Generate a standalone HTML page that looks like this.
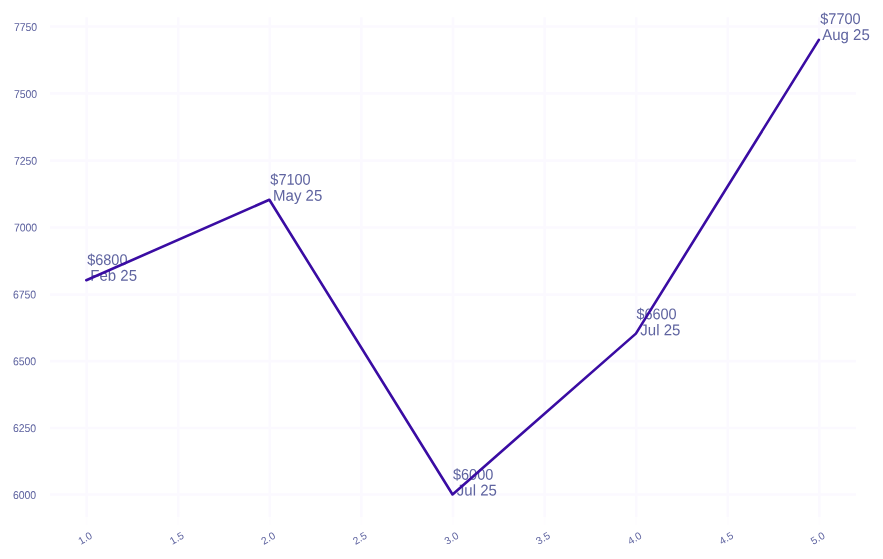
<!DOCTYPE html>
<html lang="en"><head><meta charset="utf-8"><title>Chart</title>
<style>html,body{margin:0;padding:0;background:#fff;overflow:hidden}svg{display:block}text{font-family:"Liberation Sans",Arial,sans-serif;fill:#5f64a0}.t{font-size:10.3px}.u{font-size:10.5px}.a{font-size:14.5px;white-space:pre}.b{font-size:15px;white-space:pre}</style></head><body>
<svg width="883" height="559" viewBox="0 0 883 559">
<rect width="883" height="559" fill="#fff"/>
<g stroke="#fbf9ff" stroke-width="2.6" fill="none">
<line x1="86.64" y1="17.20" x2="86.64" y2="517.20"/>
<line x1="178.23" y1="17.20" x2="178.23" y2="517.20"/>
<line x1="269.82" y1="17.20" x2="269.82" y2="517.20"/>
<line x1="361.41" y1="17.20" x2="361.41" y2="517.20"/>
<line x1="453.00" y1="17.20" x2="453.00" y2="517.20"/>
<line x1="544.59" y1="17.20" x2="544.59" y2="517.20"/>
<line x1="636.18" y1="17.20" x2="636.18" y2="517.20"/>
<line x1="727.77" y1="17.20" x2="727.77" y2="517.20"/>
<line x1="819.36" y1="17.20" x2="819.36" y2="517.20"/>
<line x1="50.00" y1="494.47" x2="856.00" y2="494.47"/>
<line x1="50.00" y1="427.93" x2="856.00" y2="427.93"/>
<line x1="50.00" y1="361.08" x2="856.00" y2="361.08"/>
<line x1="50.00" y1="294.59" x2="856.00" y2="294.59"/>
<line x1="50.00" y1="227.49" x2="856.00" y2="227.49"/>
<line x1="50.00" y1="160.60" x2="856.00" y2="160.60"/>
<line x1="50.00" y1="93.40" x2="856.00" y2="93.40"/>
<line x1="50.00" y1="26.46" x2="856.00" y2="26.46"/>
</g>
<g stroke="#fefdff" stroke-width="2">
<line x1="86.64" y1="517.20" x2="86.64" y2="525.20"/>
<line x1="178.23" y1="517.20" x2="178.23" y2="525.20"/>
<line x1="269.82" y1="517.20" x2="269.82" y2="525.20"/>
<line x1="361.41" y1="517.20" x2="361.41" y2="525.20"/>
<line x1="453.00" y1="517.20" x2="453.00" y2="525.20"/>
<line x1="544.59" y1="517.20" x2="544.59" y2="525.20"/>
<line x1="636.18" y1="517.20" x2="636.18" y2="525.20"/>
<line x1="727.77" y1="517.20" x2="727.77" y2="525.20"/>
<line x1="819.36" y1="517.20" x2="819.36" y2="525.20"/>
</g>
<text class="u" transform="translate(36.20,498.97) rotate(0.03) scale(1,1.08)" text-anchor="end">6000</text>
<text class="u" transform="translate(36.20,432.13) rotate(0.03) scale(1,1.08)" text-anchor="end">6250</text>
<text class="u" transform="translate(36.20,365.28) rotate(0.03) scale(1,1.08)" text-anchor="end">6500</text>
<text class="u" transform="translate(36.20,298.44) rotate(0.03) scale(1,1.08)" text-anchor="end">6750</text>
<text class="u" transform="translate(37.20,231.59) rotate(0.03) scale(1,1.08)" text-anchor="end">7000</text>
<text class="u" transform="translate(37.20,164.75) rotate(0.03) scale(1,1.08)" text-anchor="end">7250</text>
<text class="u" transform="translate(37.20,97.90) rotate(0.03) scale(1,1.08)" text-anchor="end">7500</text>
<text class="u" transform="translate(37.20,31.06) rotate(0.03) scale(1,1.08)" text-anchor="end">7750</text>
<text class="t" text-anchor="middle" transform="translate(86.84,541.30) rotate(-30)">1.0</text>
<text class="t" text-anchor="middle" transform="translate(178.43,541.30) rotate(-30)">1.5</text>
<text class="t" text-anchor="middle" transform="translate(270.02,541.30) rotate(-30)">2.0</text>
<text class="t" text-anchor="middle" transform="translate(361.61,541.30) rotate(-30)">2.5</text>
<text class="t" text-anchor="middle" transform="translate(453.20,541.30) rotate(-30)">3.0</text>
<text class="t" text-anchor="middle" transform="translate(544.79,541.30) rotate(-30)">3.5</text>
<text class="t" text-anchor="middle" transform="translate(636.38,541.30) rotate(-30)">4.0</text>
<text class="t" text-anchor="middle" transform="translate(727.97,541.30) rotate(-30)">4.5</text>
<text class="t" text-anchor="middle" transform="translate(819.56,541.30) rotate(-30)">5.0</text>
<text class="a" transform="translate(87.14,265.02) rotate(0.03) scale(1,1.075)" xml:space="preserve">$6800</text>
<text class="b" transform="translate(86.14,280.72) rotate(0.03) scale(1,1.04)" xml:space="preserve"> Feb 25</text>
<text class="a" transform="translate(270.32,184.66) rotate(0.03) scale(1,1.075)" xml:space="preserve">$7100</text>
<text class="b" transform="translate(268.92,200.66) rotate(0.03) scale(1,1.04)" xml:space="preserve"> May 25</text>
<text class="a" transform="translate(453.00,479.77) rotate(0.03) scale(1,1.075)" xml:space="preserve">$6000</text>
<text class="b" transform="translate(452.70,495.47) rotate(0.03) scale(1,1.04)" xml:space="preserve"> Jul 25</text>
<text class="a" transform="translate(636.38,319.34) rotate(0.03) scale(1,1.075)" xml:space="preserve">$6600</text>
<text class="b" transform="translate(636.18,335.34) rotate(0.03) scale(1,1.04)" xml:space="preserve"> Jul 25</text>
<text class="a" transform="translate(820.26,23.93) rotate(0.03) scale(1,1.075)" xml:space="preserve">$7700</text>
<text class="b" transform="translate(818.86,39.93) rotate(0.03) scale(1,1.04)" xml:space="preserve"> Aug 25</text>
<path d="M86.29 280.22 L269.37 199.76 L452.55 494.47 L635.88 333.64 L818.86 39.83" fill="none" stroke="#3a0ca3" stroke-width="2.6" stroke-linejoin="round" stroke-linecap="round"/>
</svg></body></html>
